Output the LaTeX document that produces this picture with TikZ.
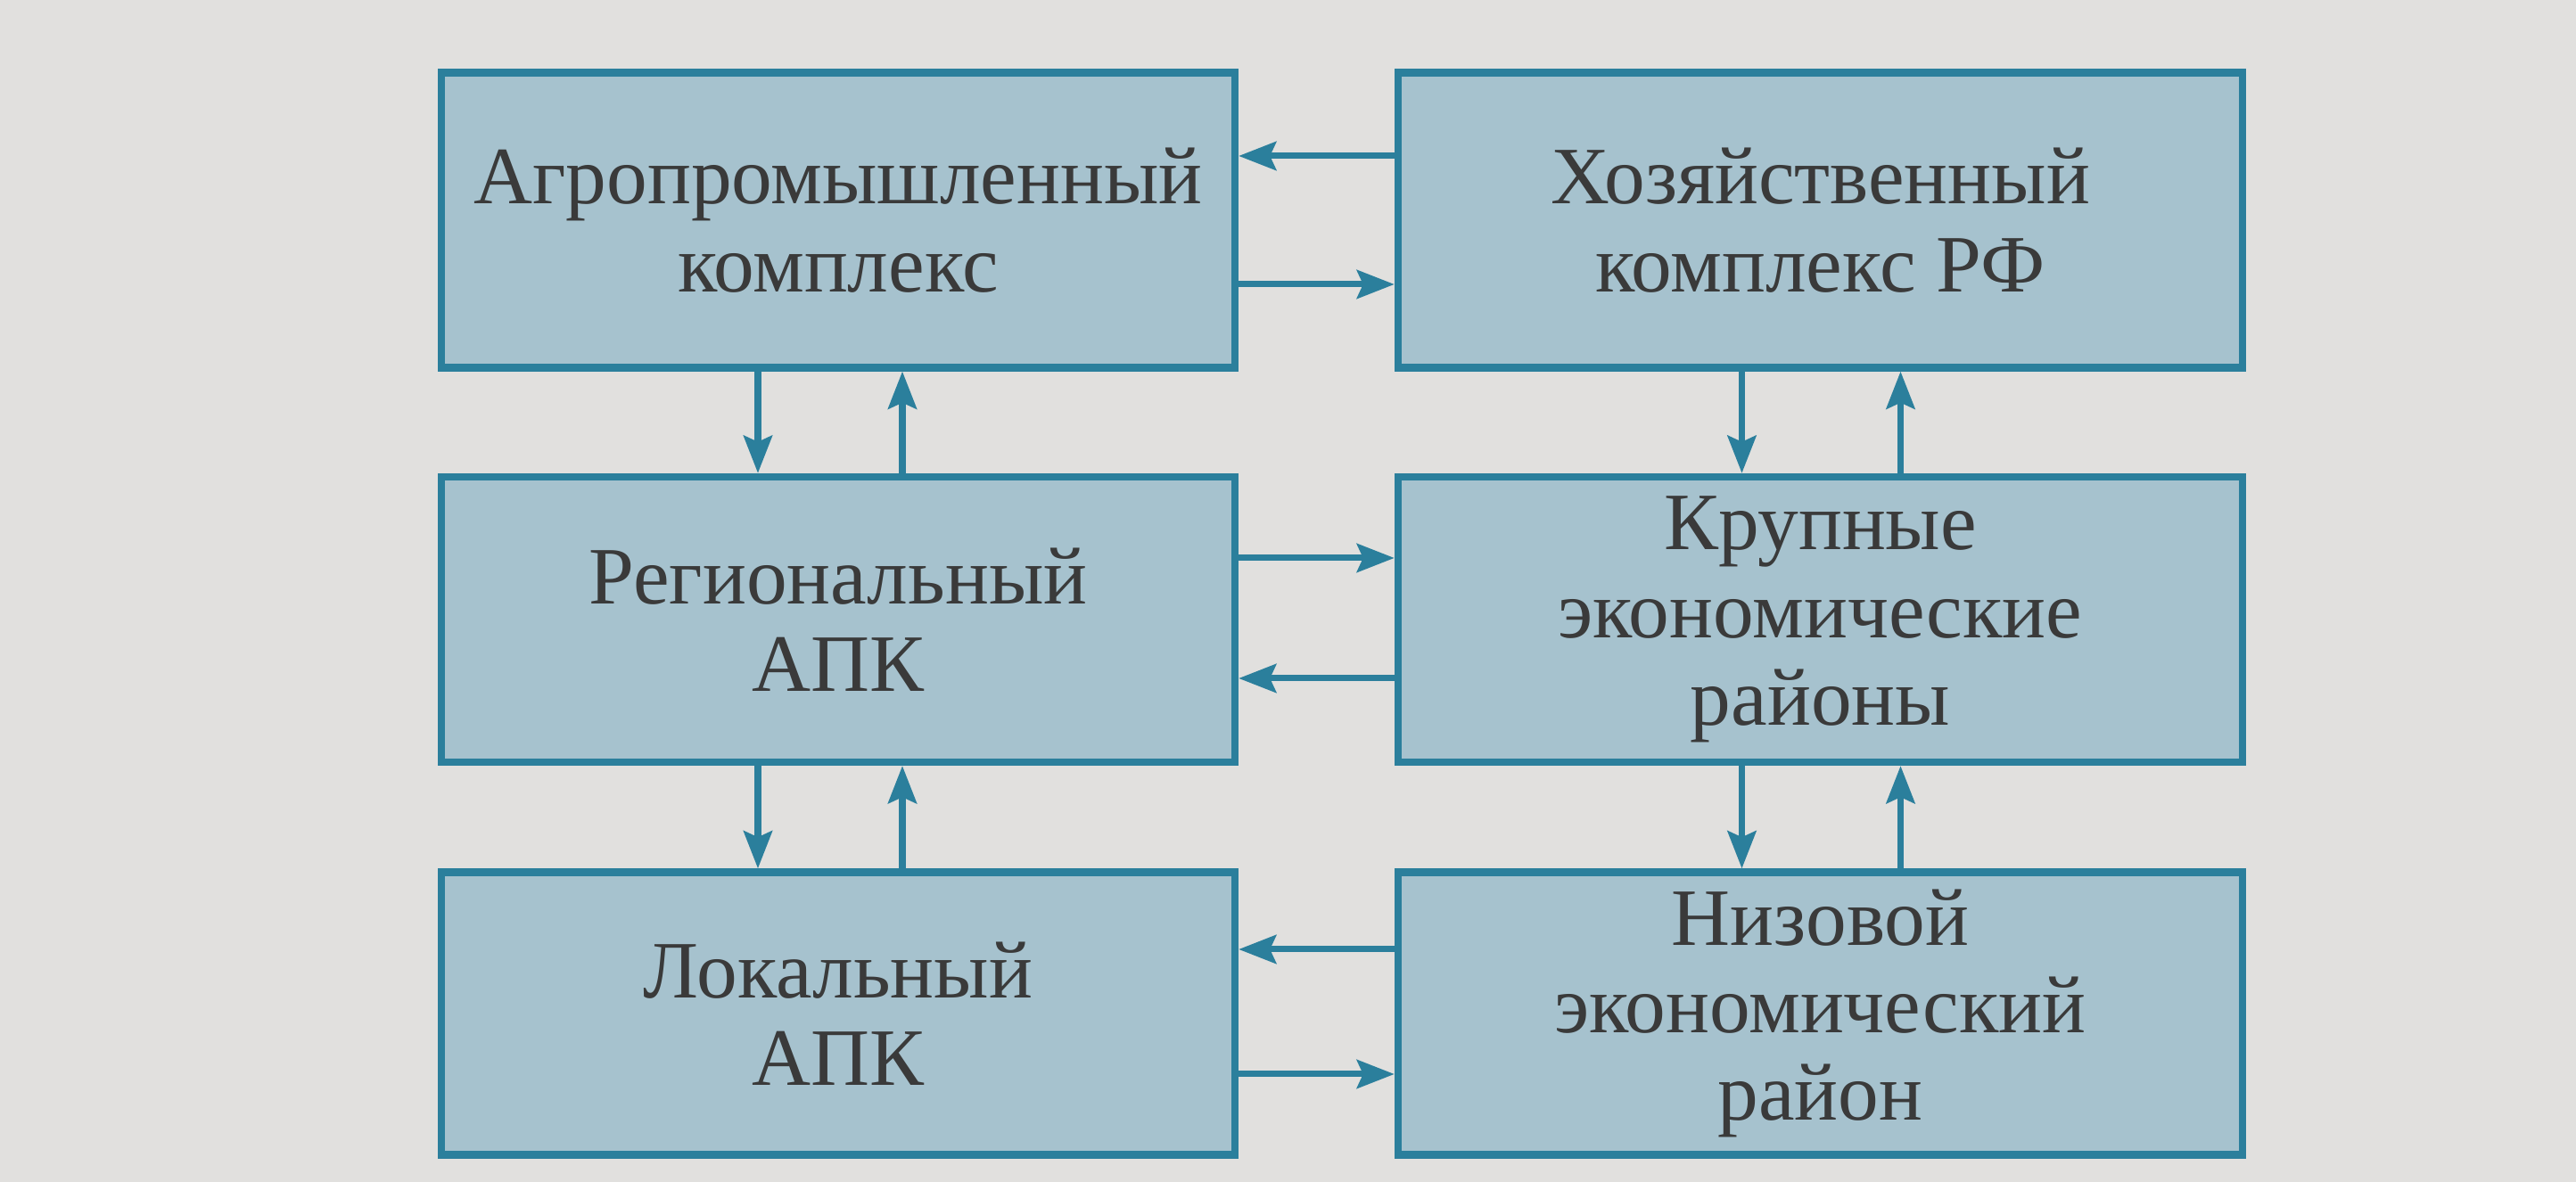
\documentclass[tikz,border=0pt]{standalone}
\usepackage{fontspec}
\setmainfont{Liberation Serif}
\usetikzlibrary{arrows.meta}
\definecolor{boxfill}{HTML}{A6C2CE}
\definecolor{boxline}{HTML}{2B7F9C}
\definecolor{paper}{HTML}{E1E0DE}
\definecolor{txt}{HTML}{3A3A3A}

\begin{document}
\begin{tikzpicture}[
    block/.style={draw=boxline, line width=2.4pt, fill=boxfill, text=txt,
      align=center, inner sep=0pt, font=\fontsize{26}{28}\selectfont},
    link/.style={draw=boxline, line width=2pt,
      -{Stealth[length=0.42cm,width=0.32cm,inset=0.07cm]}}
  ]
  \fill[paper] (0,0) rectangle (28.89,13.26);
  \useasboundingbox (0,0) rectangle (28.89,13.26);

  \node[block, minimum width=8.9cm, minimum height=3.31cm] (agro) at (9.40,10.79)
    {Агропромышленный\\комплекс};
  \node[block, minimum width=9.47cm, minimum height=3.31cm] (hoz) at (20.415,10.79)
    {Хозяйственный\\комплекс РФ};
  \node[block, minimum width=8.9cm, minimum height=3.2cm] (reg) at (9.40,6.31)
    {Региональный\\АПК};
  \node[block, minimum width=9.47cm, minimum height=3.2cm] (krup) at (20.415,6.31)
    {Крупные\\экономические\\районы};
  \node[block, minimum width=8.9cm, minimum height=3.17cm] (lok) at (9.40,1.89)
    {Локальный\\АПК};
  \node[block, minimum width=9.47cm, minimum height=3.17cm] (niz) at (20.415,1.89)
    {Низовой\\экономический\\район};

  % horizontal pairs
  \draw[link] ([yshift=0.72cm]hoz.west) -- ([yshift=0.72cm]agro.east);
  \draw[link] ([yshift=-0.72cm]agro.east) -- ([yshift=-0.72cm]hoz.west);
  \draw[link] ([yshift=0.69cm]reg.east) -- ([yshift=0.69cm]krup.west);
  \draw[link] ([yshift=-0.66cm]krup.west) -- ([yshift=-0.66cm]reg.east);
  \draw[link] ([yshift=0.72cm]niz.west) -- ([yshift=0.72cm]lok.east);
  \draw[link] ([yshift=-0.68cm]lok.east) -- ([yshift=-0.68cm]niz.west);

  % vertical pairs
  \draw[link] ([xshift=-0.9cm]agro.south) -- ([xshift=-0.9cm]reg.north);
  \draw[link] ([xshift=0.72cm]reg.north) -- ([xshift=0.72cm]agro.south);
  \draw[link] ([xshift=-0.9cm]reg.south) -- ([xshift=-0.9cm]lok.north);
  \draw[link] ([xshift=0.72cm]lok.north) -- ([xshift=0.72cm]reg.south);
  \draw[link] ([xshift=-0.88cm]hoz.south) -- ([xshift=-0.88cm]krup.north);
  \draw[link] ([xshift=0.9cm]krup.north) -- ([xshift=0.9cm]hoz.south);
  \draw[link] ([xshift=-0.88cm]krup.south) -- ([xshift=-0.88cm]niz.north);
  \draw[link] ([xshift=0.9cm]niz.north) -- ([xshift=0.9cm]krup.south);
\end{tikzpicture}
\end{document}
